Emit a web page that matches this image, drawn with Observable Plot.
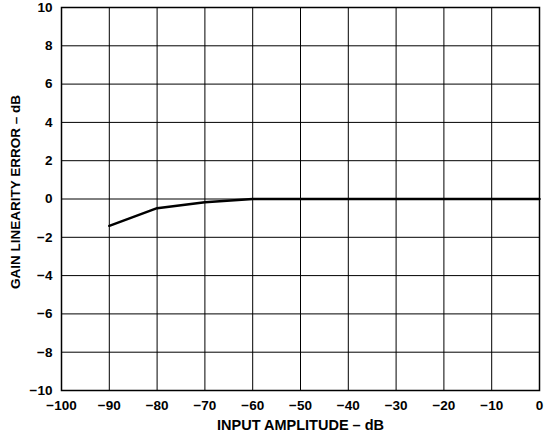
<!DOCTYPE html>
<html><head><meta charset="utf-8">
<script src="https://cdn.jsdelivr.net/npm/d3@7"></script>
<script src="https://cdn.jsdelivr.net/npm/@observablehq/plot@0.6"></script>
<style>
body{margin:0;background:#fff;}
svg{font-family:"Liberation Sans",Arial,sans-serif;font-weight:bold;}
</style>
</head><body>
<div id="chart"></div>
<script>
const inputAmplitude = [-90, -80, -70, -60, -50, -40, -30, -20, -10, 0];
const gainError = [-1.4, -0.48, -0.17, 0, 0, 0, 0, 0, 0, 0];
const xTicks = [-100, -90, -80, -70, -60, -50, -40, -30, -20, -10, 0];
const yTicks = [-10, -8, -6, -4, -2, 0, 2, 4, 6, 8, 10];
const xLabel = "INPUT AMPLITUDE – dB";
const yLabel = "GAIN LINEARITY ERROR – dB";

const data = inputAmplitude.map((x, i) => ({x, y: gainError[i]}));
const fmt = d => d < 0 ? "\u2212" + Math.abs(d) : String(d);

const chart = Plot.plot({
  width: 554,
  height: 439,
  marginLeft: 61,
  marginRight: 15,
  marginTop: 7,
  marginBottom: 49,
  style: {fontSize: "13.5px", fontWeight: "bold", color: "#000", background: "#fff"},
  x: {domain: [-100, 0], ticks: xTicks, tickFormat: fmt},
  y: {domain: [-10, 10], ticks: yTicks, tickFormat: fmt},
  marks: [
    Plot.gridX(xTicks, {stroke: "#000", strokeOpacity: 1, strokeWidth: 1}),
    Plot.gridY(yTicks, {stroke: "#000", strokeOpacity: 1, strokeWidth: 1}),
    Plot.frame({stroke: "#000", strokeWidth: 1.5}),
    Plot.axisX(xTicks, {tickSize: 0, tickPadding: 10, label: null, tickFormat: fmt}),
    Plot.axisY(yTicks, {tickSize: 0, tickPadding: 9, label: null, tickFormat: fmt}),
    Plot.text([xLabel], {frameAnchor: "bottom", textAnchor: "middle", text: d => d, dy: 39, fontSize: 14.5, fontWeight: "bold", fill: "#000"}),
    Plot.text([yLabel], {frameAnchor: "left", textAnchor: "middle", text: d => d, rotate: -90, dx: -46, dy: -7, fontSize: 13.5, fontWeight: "bold", fill: "#000"}),
    Plot.line(data, {x: "x", y: "y", stroke: "#000", strokeWidth: 2.5})
  ]
});
document.getElementById("chart").appendChild(chart);
</script>
</body></html>
